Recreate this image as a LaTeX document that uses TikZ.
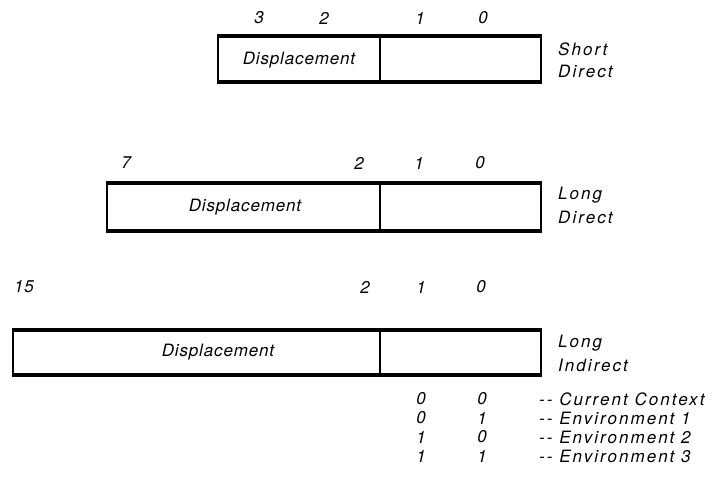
\documentclass[tikz,border=0pt]{standalone}
\usepackage{fontspec}
\newfontfamily\lblfont[LetterSpace=5]{TeX Gyre Heros}
\newfontfamily\widefont[LetterSpace=12]{TeX Gyre Heros}
\begin{document}
\begin{tikzpicture}[x=1pt,y=-1pt,
  lbl/.style={inner sep=0pt,font=\lblfont\itshape\fontsize{17}{20}\selectfont},
  leftlbl/.style={inner sep=0pt,anchor=west,font=\widefont\itshape\fontsize{17}{20}\selectfont},
  edge/.style={line width=3.8pt},
  side/.style={line width=1.3pt},
  rside/.style={line width=2pt}]
\useasboundingbox (0,0) rectangle (712,487);
% one register word: #1 left, #2 top, #3 bottom, #4 divider, #5 right
\newcommand{\regword}[5]{%
  \draw[edge] (#1-0.6,#2) -- (#5+1,#2);
  \draw[edge] (#1-0.6,#3) -- (#5+1,#3);
  \draw[side] (#1,#2) -- (#1,#3);
  \draw[side] (#4,#2) -- (#4,#3);
  \draw[rside] (#5,#2) -- (#5,#3);}
% Short direct
\regword{218}{36}{82}{380}{541}
\node[lbl] (s3) at (259,18) {3};
\node[lbl] (s2) at (324,18) {2};
\node[lbl] (s1) at (420,18) {1};
\node[lbl] (s0) at (483,18) {0};
\node[lbl] (sdisp) at (299,60) {Displacement};
\node[leftlbl] (sa) at (558,49) {Short};
\node[leftlbl] (sb) at (558,71) {Direct};
% Long direct
\regword{107}{183}{231}{380}{541}
\node[lbl] (d7) at (126,163) {7};
\node[lbl] (d2) at (359,163) {2};
\node[lbl] (d1) at (419,163) {1};
\node[lbl] (d0) at (480,163) {0};
\node[lbl] (ddisp) at (245,207) {Displacement};
\node[leftlbl] (da) at (558,195) {Long};
\node[leftlbl] (db) at (558,217) {Direct};
% Long indirect
\regword{13}{330}{375}{380}{541}
\node[lbl] (i15) at (24,287) {15};
\node[lbl] (i2) at (365,287) {2};
\node[lbl] (i1) at (421,287) {1};
\node[lbl] (i0) at (481,287) {0};
\node[lbl] (idisp) at (218,352) {Displacement};
\node[leftlbl] (ia) at (558,343) {Long};
\node[leftlbl] (ib) at (558,365) {Indirect};
% environment selector table
\node[lbl] (t1a) at (421,399) {0}; \node[lbl] (t1b) at (482,399) {0};
\node[leftlbl] (t1c) at (539,399) {-{}- Current Context};
\node[lbl] (t2a) at (421,418) {0}; \node[lbl] (t2b) at (482,418) {1};
\node[leftlbl] (t2c) at (539,418) {-{}- Environment 1};
\node[lbl] (t3a) at (421,437) {1}; \node[lbl] (t3b) at (482,437) {0};
\node[leftlbl] (t3c) at (539,437) {-{}- Environment 2};
\node[lbl] (t4a) at (421,456) {1}; \node[lbl] (t4b) at (482,456) {1};
\node[leftlbl] (t4c) at (539,456) {-{}- Environment 3};
\end{tikzpicture}
\end{document}
